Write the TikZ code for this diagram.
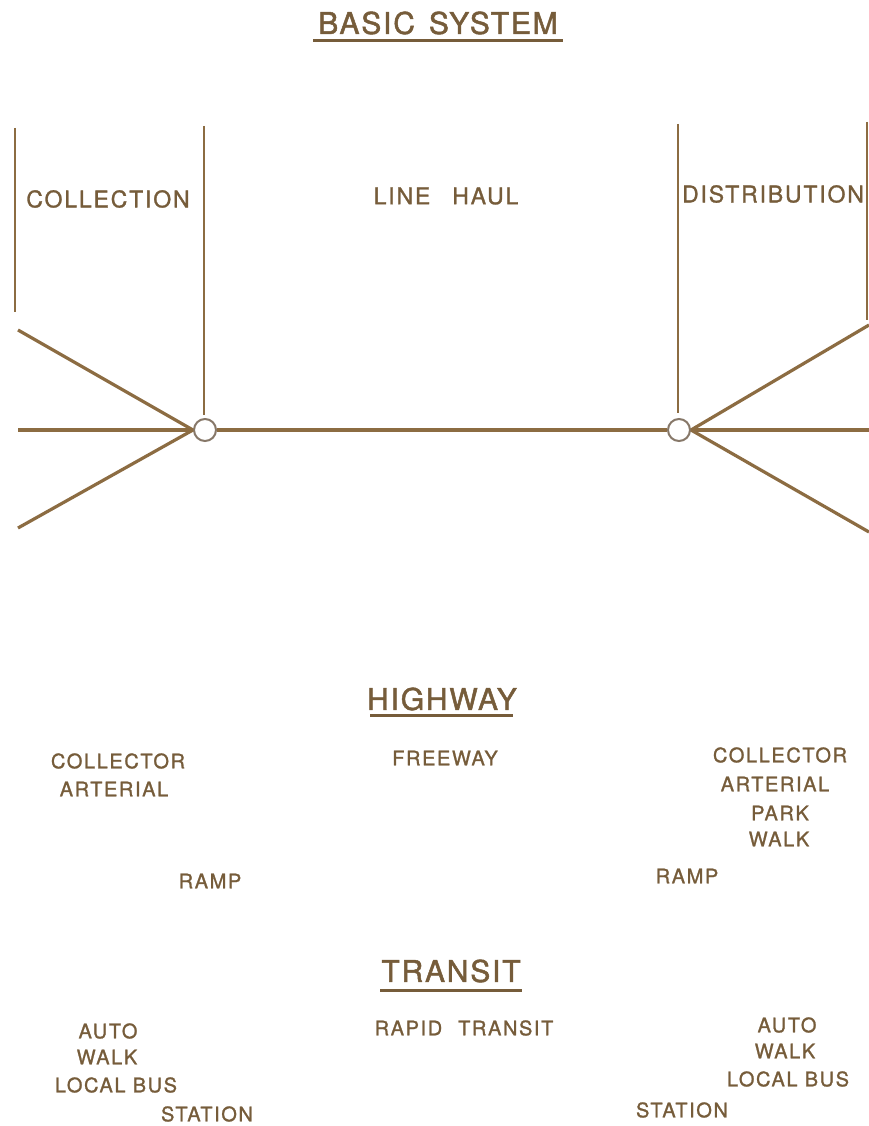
\documentclass[tikz,border=0pt]{standalone}
\usepackage{fontspec}
\setmainfont{TeX Gyre Heros}
\newfontfamily\lbl[LetterSpace=8,FakeBold=1.2]{TeX Gyre Heros}
\newfontfamily\ttl[LetterSpace=6,FakeBold=1.6]{TeX Gyre Heros}
\definecolor{ink}{RGB}{118,92,58}
\definecolor{lineink}{RGB}{140,108,66}
\definecolor{ringink}{RGB}{135,120,105}
\tikzset{
  lab/.style={text=ink, inner sep=0pt, font=\lbl\fontsize{20}{22}\selectfont},
  biglab/.style={text=ink, inner sep=0pt, font=\lbl\fontsize{23}{25}\selectfont},
  head/.style={text=ink, inner sep=0pt, font=\ttl\fontsize{30}{32}\selectfont},
  uline/.style={draw=ink, line width=3pt},
  bound/.style={draw=lineink, line width=2pt},
  road/.style={draw=lineink, line width=3.2pt},
  hub/.style={circle, draw=ringink, line width=2pt, minimum size=22pt, inner sep=0pt, fill=white}
}
\begin{document}
\begin{tikzpicture}[x=1pt,y=-1pt]
\useasboundingbox (0,0) rectangle (869,1126);
\fill[white] (0,0) rectangle (869,1126);
% title
\node[head] (t1) at (438,23) {BASIC\hspace{14pt}SYSTEM};
\draw[uline] (313,41) -- (563,41);
% zone boundaries
\draw[bound] (15,128) -- (15,312);
\draw[bound] (204,126) -- (204,415);
\draw[bound] (678,124) -- (678,413);
\draw[bound] (867,122) -- (867,320);
% zone labels
\node[biglab] (col) at (108,199) {COLLECTION};
\node[biglab] (lh) at (446,196) {LINE\hspace{22pt}HAUL};
\node[biglab] (dis) at (773,194) {DISTRIBUTION};
% hubs
\node[hub] (h1) at (205,430) {};
\node[hub] (h2) at (679,430) {};
\coordinate (l1) at (18,330);
\coordinate (l2) at (18,430);
\coordinate (l3) at (18,528);
\coordinate (r1) at (869,325);
\coordinate (r2) at (869,430);
\coordinate (r3) at (869,532);
\draw[road] (l1) -- (h1.west);
\draw[road] (l2) -- (h1.west);
\draw[road] (l3) -- (h1.west);
\draw[road] (h1) -- (h2);
\draw[road] (h2.east) -- (r1);
\draw[road] (h2.east) -- (r2);
\draw[road] (h2.east) -- (r3);
% highway
\node[head] (hw) at (442,699) {HIGHWAY};
\draw[uline] (370,715) -- (513,715);
\node[lab] (fw) at (445,758) {FREEWAY};
\node[lab] (c1) at (118,761) {COLLECTOR};
\node[lab] (a1) at (114,789) {ARTERIAL};
\node[lab] (c2) at (780,755) {COLLECTOR};
\node[lab] (a2) at (775,784) {ARTERIAL};
\node[lab] (p2) at (780,813) {PARK};
\node[lab] (w2) at (779,839) {WALK};
\node[lab] (rp1) at (210,881) {RAMP};
\node[lab] (rp2) at (687,876) {RAMP};
% transit
\node[head] (tr) at (451,971) {TRANSIT};
\draw[uline] (380,990) -- (522,990);
\node[lab] (rt) at (464,1028) {RAPID\hspace{16pt}TRANSIT};
\node[lab] (au1) at (108,1031) {AUTO};
\node[lab] (wk1) at (107,1057) {WALK};
\node[lab] (lb1) at (116,1085) {LOCAL BUS};
\node[lab] (st1) at (207,1114) {STATION};
\node[lab] (au2) at (787,1025) {AUTO};
\node[lab] (wk2) at (785,1051) {WALK};
\node[lab] (lb2) at (788,1079) {LOCAL BUS};
\node[lab] (st2) at (682,1110) {STATION};
\end{tikzpicture}
\end{document}
